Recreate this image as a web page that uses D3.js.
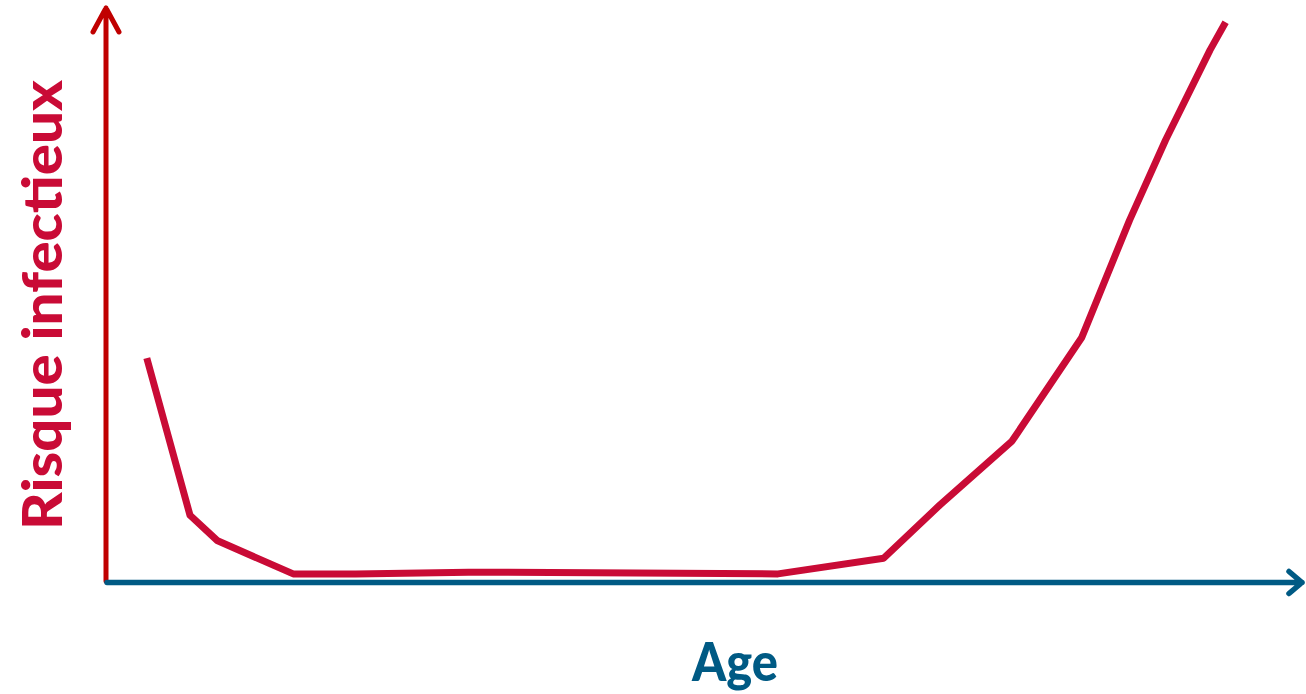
<!DOCTYPE html>
<html>
  <head>
    <meta charset="utf-8">
    <title>Risque infectieux selon l'âge</title>
    <style>
      body { margin: 0; background: #fff; }
      svg { font-family: Lato, "Open Sans", sans-serif; display: block; }
      .curve { fill: none; stroke: #c90b36; stroke-width: 7px; stroke-linejoin: round; }
      .label { font-weight: 900; }
    </style>
  </head>
  <body>
    <svg width="1306" height="694"></svg>

    <script src="https://d3js.org/d3.v7.min.js"></script>
    <script>
      // Conceptual curve: infection risk vs age
      const ages = [3.4, 7, 9.3, 15.6, 20.8, 30.2, 56, 64.8, 69.5, 75.5, 81.3, 85.3, 88.3, 92, 93.3];
      const risk = [38.6, 11.5, 7.1, 1.4, 1.4, 1.7, 1.4, 4.1, 13.3, 24.3, 42.1, 62.4, 76.2, 91.7, 96.5];
      const xTitle = 'Age';
      const yTitle = 'Risque infectieux';

      const svg = d3.select('svg');

      const x = d3.scaleLinear().domain([0, 100]).range([106, 1306]);
      const y = d3.scaleLinear().domain([0, 100]).range([582, 2]);

      // Axes drawn as arrows
      const x0 = x(0), y0 = y(0);

      svg.append('path')
        .attr('d', `M${x0},${y0 - 1} L${x0},8 M${x0 - 13},32 L${x0},8 L${x0 + 13},32`)
        .attr('fill', 'none')
        .attr('stroke', '#c00000')
        .attr('stroke-width', 5)
        .attr('stroke-linecap', 'round')
        .attr('stroke-linejoin', 'round');

      svg.append('path')
        .attr('d', `M${x0 + 1},${y0 + 0.5} L1302,${y0 + 0.5} M1289,${y0 - 10.5} L1302,${y0 + 0.5} L1289,${y0 + 11.5}`)
        .attr('fill', 'none')
        .attr('stroke', '#005a84')
        .attr('stroke-width', 5.5)
        .attr('stroke-linecap', 'round')
        .attr('stroke-linejoin', 'round');

      // Risk curve
      const pts = ages.map((a, i) => [a, risk[i]]);
      svg.append('path')
        .datum(pts)
        .attr('class', 'curve')
        .attr('d', d3.line().x(d => x(d[0])).y(d => y(d[1])));

      // Titles
      svg.append('text')
        .attr('class', 'label')
        .attr('x', 735)
        .attr('y', 681)
        .attr('text-anchor', 'middle')
        .attr('fill', '#005a84')
        .attr('font-size', 54)
        .attr('textLength', 86)
        .attr('lengthAdjust', 'spacingAndGlyphs')
        .text(xTitle);

      svg.append('text')
        .attr('class', 'label')
        .attr('transform', 'translate(62,305) rotate(-90)')
        .attr('text-anchor', 'middle')
        .attr('fill', '#c90b36')
        .attr('font-size', 56)
        .attr('textLength', 450)
        .attr('lengthAdjust', 'spacingAndGlyphs')
        .text(yTitle);
    </script>
  </body>
</html>
